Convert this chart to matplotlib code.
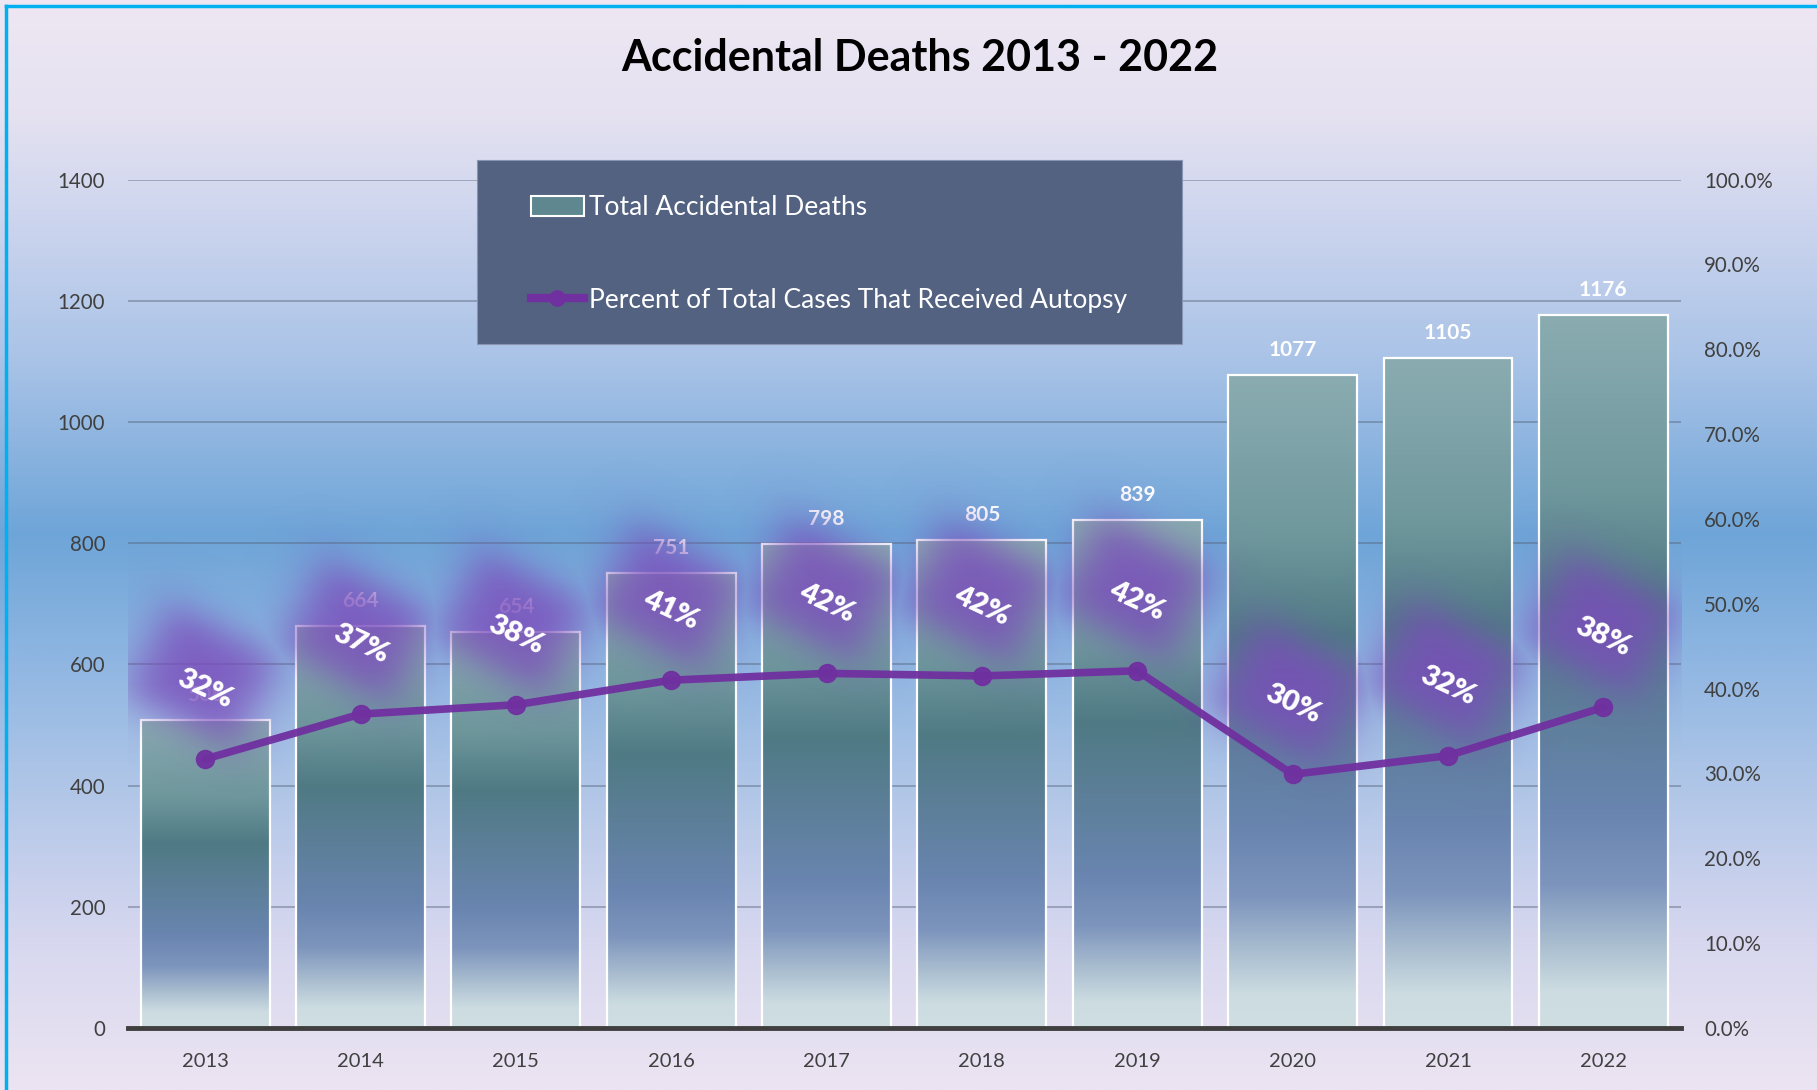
import numpy as np
import matplotlib
matplotlib.use("Agg")
import matplotlib.pyplot as plt
from matplotlib.colors import LinearSegmentedColormap, to_rgb
from matplotlib.lines import Line2D
from matplotlib.patches import Patch, Rectangle

# ---------------- data ----------------
years = ["2013", "2014", "2015", "2016", "2017", "2018", "2019", "2020", "2021", "2022"]
deaths = [508, 664, 654, 751, 798, 805, 839, 1077, 1105, 1176]
autopsy_pct = [31.7, 37.0, 38.1, 41.0, 41.8, 41.5, 42.1, 29.9, 32.1, 37.8]
autopsy_labels = ["32%", "37%", "38%", "41%", "42%", "42%", "42%", "30%", "32%", "38%"]
left_ticks = [0, 200, 400, 600, 800, 1000, 1200, 1400]
right_ticks = [0, 10, 20, 30, 40, 50, 60, 70, 80, 90, 100]

FONT = "Lato"
W, H, DPI = 1817, 1090, 100
fig = plt.figure(figsize=(W / DPI, H / DPI), dpi=DPI)

# ---------------- figure background gradient ----------------
bg = fig.add_axes([0, 0, 1, 1], zorder=-10)
bg.set_axis_off()
stops = [(0.0, "#EEE7F3"), (0.10, "#E6E2F1"), (0.20, "#CDD5EE"), (0.33, "#A9C3E7"),
         (0.49, "#6EA5D8"), (0.60, "#8DB5E1"), (0.73, "#B2C7E8"), (0.86, "#D6D7EF"),
         (1.0, "#ECE4F2")]
bgc = LinearSegmentedColormap.from_list("bg", stops)
grad = np.linspace(0, 1, 512)[:, None]
bg.imshow(grad, cmap=bgc, aspect="auto", extent=(0, 1, 0, 1), origin="upper")
bg.set_xlim(0, 1)
bg.set_ylim(0, 1)

# border (cyan, top & left)
fig.add_artist(Line2D([6 / W, 1.0], [1 - 6 / H, 1 - 6 / H], transform=fig.transFigure,
                      color="#00B0F0", lw=2.5))
fig.add_artist(Line2D([6 / W, 6 / W], [0, 1 - 6 / H], transform=fig.transFigure,
                      color="#00B0F0", lw=2.5))

# ---------------- main axes ----------------
ax_l, ax_r = 127.5 / W, 1681 / W
ax_b, ax_t = 1 - 1028 / H, 1 - 179.6 / H
ax = fig.add_axes([ax_l, ax_b, ax_r - ax_l, ax_t - ax_b])
ax.set_facecolor("none")
x = np.arange(len(years))
ax.set_xlim(-0.5, len(years) - 0.5)
ax.set_ylim(0, 1400)

for s in ax.spines.values():
    s.set_visible(False)
ax.set_yticks(left_ticks)
ax.set_yticklabels([str(v) for v in left_ticks], fontfamily=FONT, fontsize=14.8, color="#404040")
ax.set_xticks(x)
ax.set_xticklabels(years, fontfamily=FONT, fontsize=14.5, color="#404040")
ax.tick_params(axis="y", length=0, pad=16)
ax.tick_params(axis="x", length=0, pad=18)
ax.grid(axis="y", color="#56657A", alpha=0.45, lw=1.4, zorder=0)
ax.set_axisbelow(True)
ax.axhline(0, color="#3F3F3F", lw=3.5, zorder=6, clip_on=False)

# bars with vertical gradient
bar_stops = [(0.0, "#CFDEE2"), (0.05, "#CCDCE1"), (0.12, "#A8BCCF"), (0.2, "#7D95BD"),
             (0.3, "#6985B0"), (0.45, "#5D7F99"), (0.6, "#4F7A84"), (0.75, "#6E979C"),
             (1.0, "#8AACB1")]
barc = LinearSegmentedColormap.from_list("bar", bar_stops)
bw = 0.83
bars = ax.bar(x, deaths, width=bw, facecolor="none", edgecolor="white", lw=1.6, zorder=3)
g = np.linspace(0, 1, 256)[:, None]
for rect, v in zip(bars, deaths):
    x0 = rect.get_x()
    im = ax.imshow(g, cmap=barc, aspect="auto", origin="lower",
                   extent=(x0, x0 + rect.get_width(), 0, v), zorder=2,
                   interpolation="bilinear")
    im.set_clip_path(rect)
ax.set_xlim(-0.5, len(years) - 0.5)
ax.set_ylim(0, 1400)

# value labels (sit below the glow)
for xi, v in zip(x, deaths):
    ax.annotate(str(v), (xi, v), xytext=(0, 18), textcoords="offset points",
                ha="center", va="center", fontfamily=FONT, fontweight="bold",
                fontsize=15, color="white", zorder=4)

# ---------------- secondary axis ----------------
ax2 = ax.twinx()
ax2.set_ylim(0, 100)
ax2.set_xlim(-0.5, len(years) - 0.5)
for s in ax2.spines.values():
    s.set_visible(False)
ax2.set_yticks(right_ticks)
ax2.set_yticklabels([f"{v:.1f}%" for v in right_ticks], fontfamily=FONT, fontsize=14.8,
                    color="#404040")
ax2.tick_params(axis="y", length=0, pad=16.5)

# glow behind percent labels (drawn on primary axes, above bars and value labels)
fig.canvas.draw()
bb = ax.bbox
pw, ph = int(round(bb.width)), int(round(bb.height))
yy, xx = np.mgrid[0:ph, 0:pw]
alpha = np.zeros((ph, pw))
LABEL_OFF = 70  # px above point
ang = np.deg2rad(-28)
for xi, p in zip(x, autopsy_pct):
    px, py = ax2.transData.transform((xi, p))
    cx, cy = px - bb.x0 - 4, py - bb.y0 + LABEL_OFF + 12
    dx, dy = xx - cx, yy - cy
    u = dx * np.cos(ang) + dy * np.sin(ang)
    v = -dx * np.sin(ang) + dy * np.cos(ang)
    r = ((u / 82.0) ** 4 + (v / 68.0) ** 4) ** 0.25
    a = 0.84 / (1 + np.exp((r - 0.74) / 0.17))
    alpha = np.maximum(alpha, a)
glow = np.zeros((ph, pw, 4))
glow[..., :3] = to_rgb("#7A4DBB")
glow[..., 3] = alpha
ax.imshow(glow, origin="lower", extent=(-0.5, len(years) - 0.5, 0, 1400), aspect="auto",
          zorder=4.5, interpolation="bilinear")
ax.set_xlim(-0.5, len(years) - 0.5)
ax.set_ylim(0, 1400)

# line
ax2.plot(x, autopsy_pct, color="#7030A0", lw=5.5, marker="o", markersize=13,
         alpha=0.95, zorder=3, solid_capstyle="round")
for xi, p, lab in zip(x, autopsy_pct, autopsy_labels):
    ax2.annotate(lab, (xi, p), xytext=(0, LABEL_OFF / 1.389), textcoords="offset points",
                 ha="center", va="center", rotation=-25, rotation_mode="anchor",
                 fontfamily=FONT, fontweight="heavy", fontsize=21, color="white", zorder=5)

# ---------------- title ----------------
fig.text(920 / W, 1 - 58 / H, "Accidental Deaths 2013 - 2022", ha="center", va="center",
         fontfamily=FONT, fontweight="bold", fontsize=31, color="black")

# ---------------- legend ----------------
lg_x0, lg_x1 = 477 / W, 1182 / W
lg_y0, lg_y1 = 1 - 344 / H, 1 - 160 / H
fig.add_artist(Rectangle((lg_x0, lg_y0), lg_x1 - lg_x0, lg_y1 - lg_y0,
                         transform=fig.transFigure, facecolor="#536281",
                         edgecolor="#8894B0", lw=0.8, zorder=20))
handles = [Patch(facecolor="#5E8790", edgecolor="white", lw=1.5),
           Line2D([], [], color="#7030A0", lw=6, marker="o", markersize=11)]
leg = fig.legend(handles, ["Total Accidental Deaths", "Percent of Total Cases That Received Autopsy"],
                 loc="center left", bbox_to_anchor=(531 / W, 1 - 254 / H), frameon=False,
                 prop={"family": FONT, "size": 19}, labelcolor="white", handlelength=2.0,
                 handleheight=0.75, handletextpad=0.2, labelspacing=2.55, borderpad=0,
                 borderaxespad=0)
leg.set_zorder(21)

fig.savefig("out.png", dpi=DPI)
